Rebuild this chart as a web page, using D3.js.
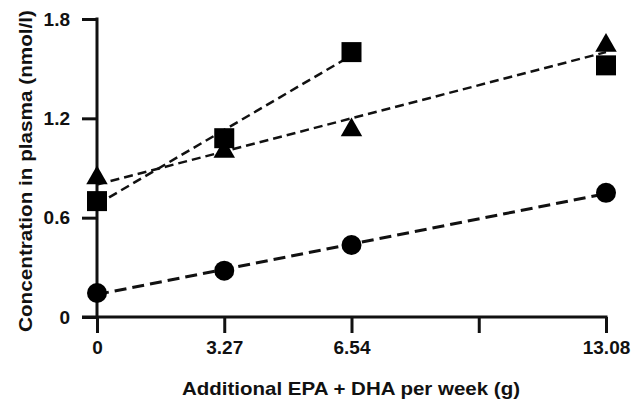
<html>
<head>
<meta charset="UTF-8">
<title>Concentration in plasma</title>
<script src="https://d3js.org/d3.v7.min.js"></script>
<style>
  body { margin: 0; background: #fff; }
  svg { display: block; }
  text { font-family: "Liberation Sans", Arial, sans-serif; font-weight: bold; fill: #111; }
</style>
</head>
<body>
<script type="text/javascript">
var doses = [0, 3.27, 6.54, 13.08];
var xTicks = [0, 3.27, 6.54, 9.81, 13.08];
var xTickLabels = ["0", "3.27", "6.54", "", "13.08"];
var yTicks = [0, 0.6, 1.2, 1.8];

var circles = [0.145, 0.28, 0.435, 0.75];
var squares = [0.70, 1.08, 1.60, 1.52];
var triangles = [0.84, 1.00, 1.13, 1.64];

// dashed trend lines: [x0, y0, x1, y1]
var circleFit = [0, 0.136, 13.08, 0.745];
var squareFit = [0, 0.68, 6.54, 1.58];
var triangleFit = [0, 0.80, 13.08, 1.60];

var width = 637;
var height = 405;

var svg = d3.select("body").append("svg")
  .attr("width", width)
  .attr("height", height);

var x = d3.scaleLinear().domain([0, 13.08]).range([97, 606]);
var y = d3.scaleLinear().domain([0, 1.8]).range([317, 19]);

// y axis
var yAxis = d3.axisLeft(y).tickValues(yTicks).tickSize(15).tickSizeOuter(0)
  .tickFormat(function(d){ return d === 0 ? "0" : d3.format(".1f")(d); });
var gy = svg.append("g").attr("transform", "translate(" + x(0) + ",0)").call(yAxis);
gy.attr("font-size", null).attr("font-family", null);
gy.select(".domain").remove();
gy.selectAll(".tick line").attr("stroke", "#111").attr("stroke-width", 3);
gy.selectAll(".tick text").attr("x", -27)
  .style("font-size", "19px").style("font-weight", "bold");

// x axis
var xAxis = d3.axisBottom(x).tickValues(xTicks).tickSize(16).tickSizeOuter(0)
  .tickFormat(function(d, i){ return xTickLabels[i]; });
var gx = svg.append("g").attr("transform", "translate(0," + y(0) + ")").call(xAxis);
gx.attr("font-size", null).attr("font-family", null);
gx.select(".domain").remove();
gx.selectAll(".tick line").attr("stroke", "#111").attr("stroke-width", 3);
gx.selectAll(".tick text").attr("y", 24)
  .style("font-size", "19px").style("font-weight", "bold");

// axis lines
svg.append("line")
  .attr("x1", x(0)).attr("x2", x(0))
  .attr("y1", y(1.8) - 1.5).attr("y2", y(0))
  .attr("stroke", "#111").attr("stroke-width", 3);
svg.append("line")
  .attr("x1", x(0) - 15).attr("x2", x(13.08) + 1.5)
  .attr("y1", y(0)).attr("y2", y(0))
  .attr("stroke", "#111").attr("stroke-width", 3);

// trend lines
function fitLine(f, dash, w) {
  svg.append("line")
    .attr("x1", x(f[0])).attr("y1", y(f[1]))
    .attr("x2", x(f[2])).attr("y2", y(f[3]))
    .attr("stroke", "#111")
    .attr("stroke-width", w)
    .attr("stroke-dasharray", dash);
}
fitLine(squareFit, "9,5", 2.5);
fitLine(triangleFit, "9,5", 2.5);
fitLine(circleFit, "12,6", 3);

// markers
svg.selectAll("circle.pt")
  .data(circles)
  .enter()
  .append("circle")
  .attr("class", "pt")
  .attr("cx", function(d, i){ return x(doses[i]); })
  .attr("cy", function(d){ return y(d); })
  .attr("r", 10)
  .attr("fill", "#000");

var sq = 20;
svg.selectAll("rect.pt")
  .data(squares)
  .enter()
  .append("rect")
  .attr("class", "pt")
  .attr("x", function(d, i){ return x(doses[i]) - sq / 2; })
  .attr("y", function(d){ return y(d) - sq / 2; })
  .attr("width", sq)
  .attr("height", sq)
  .attr("fill", "#000");

var tri = d3.symbol().type(d3.symbolTriangle).size(200);
svg.selectAll("path.pt")
  .data(triangles)
  .enter()
  .append("path")
  .attr("class", "pt")
  .attr("d", tri)
  .attr("transform", function(d, i){ return "translate(" + x(doses[i]) + "," + y(d) + ")"; })
  .attr("fill", "#000");

// titles
svg.append("text")
  .attr("x", 351)
  .attr("y", 395)
  .attr("text-anchor", "middle")
  .attr("textLength", 338)
  .attr("lengthAdjust", "spacingAndGlyphs")
  .style("font-size", "19px")
  .text("Additional EPA + DHA per week (g)");

svg.append("text")
  .attr("transform", "translate(32,171) rotate(-90)")
  .attr("text-anchor", "middle")
  .attr("textLength", 322)
  .attr("lengthAdjust", "spacingAndGlyphs")
  .style("font-size", "19px")
  .text("Concentration in plasma (nmol/l)");
</script>
</body>
</html>
